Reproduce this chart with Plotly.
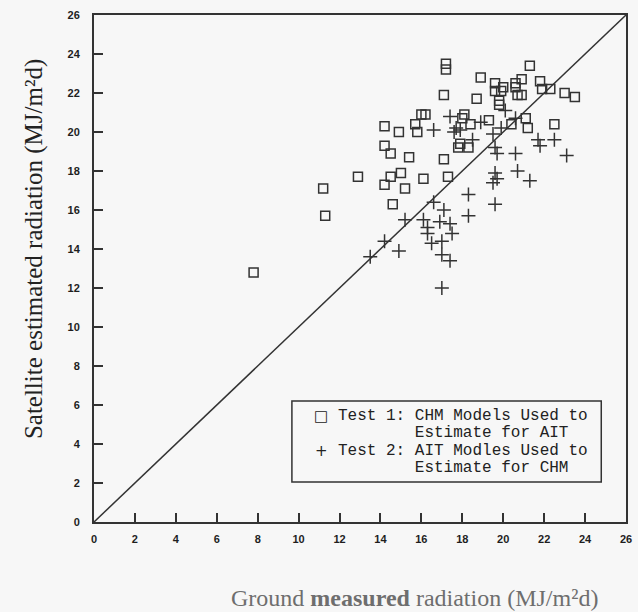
import plotly.graph_objects as go

# Test 1: CHM models used to estimate for AIT (ground, satellite) in MJ/m2d
test1_ground = [7.8, 11.2, 11.3, 12.9, 14.2, 14.2, 14.5, 14.5, 14.2, 14.6,
                14.9, 15.0, 15.2, 15.4, 15.7, 15.8, 16.0, 16.2, 16.1, 17.1,
                17.2, 17.2, 17.1, 17.3, 17.9, 17.8, 18.3, 18.0, 18.1, 18.4,
                18.7, 18.9, 19.3, 19.6, 20.0, 19.9, 19.6, 19.8, 19.8, 20.4,
                20.6, 20.6, 20.9, 20.7, 20.9, 21.1, 21.2, 21.3, 21.8, 21.9,
                22.3, 22.5, 23.0, 23.5]
test1_satellite = [12.8, 17.1, 15.7, 17.7, 20.3, 19.3, 18.9, 17.7, 17.3, 16.3,
                   20.0, 17.9, 17.1, 18.7, 20.4, 20.0, 20.9, 20.9, 17.6, 21.9,
                   23.5, 23.2, 18.6, 17.7, 19.4, 19.2, 19.2, 20.7, 20.9, 20.4,
                   21.7, 22.8, 20.6, 22.5, 22.3, 22.1, 22.1, 21.6, 21.4, 20.4,
                   22.5, 22.3, 22.7, 21.9, 21.9, 20.7, 20.2, 23.4, 22.6, 22.2,
                   22.2, 20.4, 22.0, 21.8]

# Test 2: AIT models used to estimate for CHM
test2_ground = [13.5, 14.2, 14.9, 15.2, 16.1, 16.3, 16.3, 16.5, 16.6, 16.9,
                17.1, 17.0, 17.0, 17.4, 17.5, 17.4, 17.0, 16.6, 17.4, 17.6,
                17.7, 17.9, 18.3, 18.3, 18.5, 18.9, 19.5, 19.9, 19.6, 19.7,
                19.6, 19.7, 19.5, 19.6, 20.1, 20.6, 20.6, 20.7, 21.3, 21.7,
                21.8, 22.5, 23.1]
test2_satellite = [13.6, 14.4, 13.9, 15.5, 15.5, 15.1, 14.8, 14.3, 16.4, 15.4,
                   16.0, 14.4, 13.7, 15.3, 14.8, 13.4, 12.0, 20.1, 20.8, 20.0,
                   20.2, 20.1, 16.8, 15.7, 19.6, 20.5, 19.9, 20.2, 19.2, 18.9,
                   17.9, 17.6, 17.4, 16.3, 21.1, 20.7, 18.9, 18.0, 17.5, 19.6,
                   19.3, 19.6, 18.8]

axis_range = [0, 26]
tick_values = list(range(0, 27, 2))

legend_lines = [
    ("□", "Test 1: CHM Models Used to"),
    ("", "Estimate for AIT"),
    ("+", "Test 2: AIT Modles Used to"),
    ("", "Estimate for CHM"),
]

ink = "#333333"
paper = "#f7f7f7"
nb = "\u00a0"
mono = "Liberation Mono, Courier New, monospace"
serif = "Liberation Serif, Times New Roman, serif"

fig = go.Figure()

# 1:1 line across the full axis range
fig.add_trace(go.Scatter(
    x=axis_range, y=axis_range, mode="lines",
    line=dict(color=ink, width=1.5), showlegend=False, hoverinfo="skip",
))

fig.add_trace(go.Scatter(
    x=test1_ground, y=test1_satellite, mode="markers",
    name="Test 1: CHM Models Used to Estimate for AIT", showlegend=False,
    marker=dict(symbol="square-open", size=9, color=ink, line=dict(width=1.5, color=ink)),
))

fig.add_trace(go.Scatter(
    x=test2_ground, y=test2_satellite, mode="markers",
    name="Test 2: AIT Modles Used to Estimate for CHM", showlegend=False,
    marker=dict(symbol="cross-thin-open", size=10, color=ink, line=dict(width=1.5, color=ink)),
))

axis_common = dict(
    range=axis_range,
    tickmode="array",
    tickvals=tick_values,
    ticktext=[str(v) for v in tick_values],
    showline=True, linecolor=ink, linewidth=2, mirror=True,
    ticks="inside", ticklen=9, tickwidth=1.5, tickcolor=ink,
    showgrid=False, zeroline=False,
    tickfont=dict(family="Liberation Sans, Arial, sans-serif",
                  size=11, color="#1e1e1e", weight="bold"),
)

fig.update_xaxes(**axis_common, ticklabelstandoff=6)
fig.update_yaxes(**axis_common, ticklabelstandoff=10)

annotations = [
    dict(text="Ground <b>measured</b> radiation (MJ/m²d)",
         xref="paper", yref="paper", x=0.602, y=-0.150, xanchor="center", yanchor="middle",
         showarrow=False, font=dict(family=serif, size=24, color="#6e6e6e")),
    dict(text="Satellite estimated radiation (MJ/m²d)",
         xref="paper", yref="paper", x=-0.113, y=0.538, xanchor="center", yanchor="middle",
         textangle=-90, showarrow=False, font=dict(family=serif, size=25, color="#222222")),
]

# Legend box: key glyphs and monospace text lines
line_y = [0.209, 0.1755, 0.140, 0.1065]
for (key, label), ly in zip(legend_lines, line_y):
    if key:
        annotations.append(dict(
            text=key, xref="paper", yref="paper", x=0.427, y=ly,
            xanchor="center", yanchor="middle", showarrow=False,
            font=dict(family="DejaVu Sans, sans-serif", size=15, color="#222222")))
    text = label if key else nb * 8 + label
    annotations.append(dict(
        text=text, xref="paper", yref="paper", x=0.4554, y=ly,
        xanchor="left", yanchor="middle", showarrow=False,
        font=dict(family=mono, size=16, color="#222222")))

fig.update_layout(
    width=638, height=612,
    margin=dict(l=94, r=6, t=15, b=90),
    paper_bgcolor=paper, plot_bgcolor=paper,
    showlegend=False,
    annotations=annotations,
    shapes=[dict(type="rect", xref="paper", yref="paper",
                 x0=0.372, x1=0.9535, y0=0.0789, y1=0.2387,
                 line=dict(color=ink, width=1.5), fillcolor=paper, layer="below")],
)

fig.write_html("out.html")
